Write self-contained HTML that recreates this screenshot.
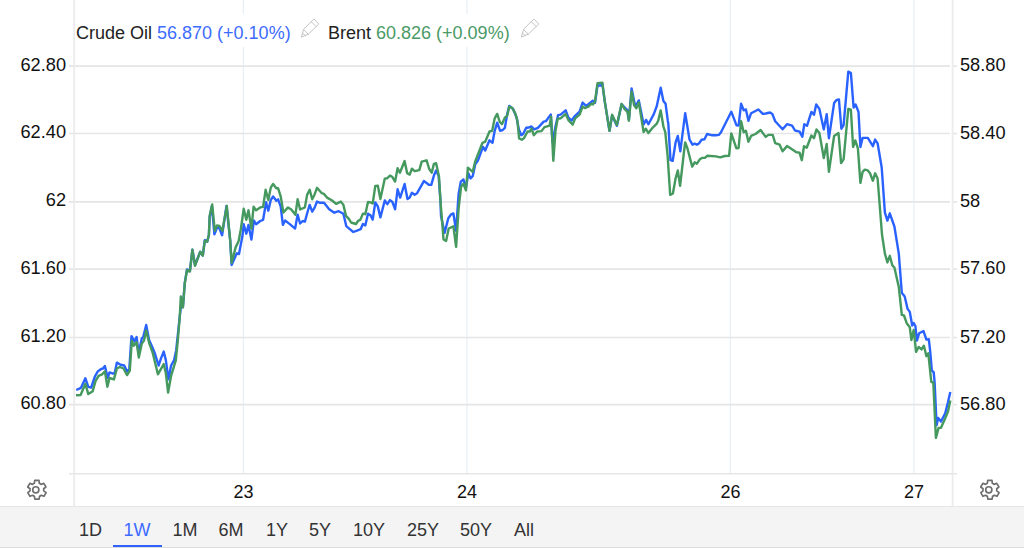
<!DOCTYPE html>
<html><head><meta charset="utf-8">
<style>
html,body{margin:0;padding:0;background:#fff;}
body{width:1024px;height:548px;position:relative;overflow:hidden;-webkit-font-smoothing:antialiased;font-family:"Liberation Sans",sans-serif;color:#131722;}
.yl{position:absolute;left:0;width:66px;text-align:right;font-size:18.2px;line-height:22px;color:#111;}
.yr{position:absolute;left:960px;font-size:18.2px;line-height:22px;color:#111;}
.xl{position:absolute;top:480.6px;width:60px;text-align:center;font-size:18px;line-height:22px;color:#111;}
.hdr{position:absolute;top:14px;left:76px;font-size:18px;line-height:38px;height:33px;overflow:hidden;white-space:nowrap;color:#222;background:#fff;}
.blue{color:#3d6cff;}
.green{color:#4a9a66;}
.gear,.pencil{position:absolute;}
.bar{position:absolute;left:0;top:506px;width:1024px;height:42px;background:#f4f4f4;border-top:1px solid #e6e6e6;border-bottom:1px solid #dcdcdc;box-sizing:border-box;}
.tab{position:absolute;top:519.4px;font-size:18px;line-height:22px;color:#333;}
.tab.sel{color:#3d6cff;}
.ul{position:absolute;left:112.5px;top:544.9px;width:49.3px;height:2.1px;background:#2f62ff;}
</style></head><body>
<svg width="1024" height="548" viewBox="0 0 1024 548" style="position:absolute;left:0;top:0"><line x1="243.4" y1="0" x2="243.4" y2="473" stroke="#e9f0f5" stroke-width="1.3"/><line x1="466.9" y1="0" x2="466.9" y2="473" stroke="#e9f0f5" stroke-width="1.3"/><line x1="730.4" y1="0" x2="730.4" y2="473" stroke="#e9f0f5" stroke-width="1.3"/><line x1="914.0" y1="0" x2="914.0" y2="473" stroke="#e9f0f5" stroke-width="1.3"/><line x1="69" y1="66.1" x2="950" y2="66.1" stroke="#e5e5e5" stroke-width="1.6"/><line x1="953" y1="66.1" x2="957" y2="66.1" stroke="#e5e5e5" stroke-width="1.6"/><line x1="69" y1="133.5" x2="950" y2="133.5" stroke="#e5e5e5" stroke-width="1.6"/><line x1="953" y1="133.5" x2="957" y2="133.5" stroke="#e5e5e5" stroke-width="1.6"/><line x1="69" y1="201.9" x2="950" y2="201.9" stroke="#e5e5e5" stroke-width="1.6"/><line x1="953" y1="201.9" x2="957" y2="201.9" stroke="#e5e5e5" stroke-width="1.6"/><line x1="69" y1="269.1" x2="950" y2="269.1" stroke="#e5e5e5" stroke-width="1.6"/><line x1="953" y1="269.1" x2="957" y2="269.1" stroke="#e5e5e5" stroke-width="1.6"/><line x1="69" y1="337.5" x2="950" y2="337.5" stroke="#e5e5e5" stroke-width="1.6"/><line x1="953" y1="337.5" x2="957" y2="337.5" stroke="#e5e5e5" stroke-width="1.6"/><line x1="69" y1="404.6" x2="950" y2="404.6" stroke="#e5e5e5" stroke-width="1.6"/><line x1="953" y1="404.6" x2="957" y2="404.6" stroke="#e5e5e5" stroke-width="1.6"/><line x1="74.2" y1="0" x2="74.2" y2="506" stroke="#ececec" stroke-width="1.8"/><line x1="952.6" y1="0" x2="952.6" y2="506" stroke="#ececec" stroke-width="1.8"/><line x1="69" y1="473.7" x2="957" y2="473.7" stroke="#e6e6e6" stroke-width="1.5"/><path d="M76.2,390.0 L81.0,387.8 L85.4,378.3 L88.3,386.8 L91.2,387.5 L94.9,376.5 L97.8,371.4 L100.8,369.2 L103.0,368.5 L104.9,366.0 L107.8,378.0 L109.5,372.4 L113.2,373.6 L114.7,372.9 L116.9,362.6 L120.5,364.8 L124.2,365.5 L127.1,371.4 L129.3,369.2 L131.5,336.2 L134.4,341.4 L136.6,337.0 L138.6,353.1 L141.8,338.4 L143.2,337.0 L146.2,325.0 L149.1,339.9 L152.0,346.5 L155.0,353.8 L158.6,365.5 L160.8,358.9 L163.7,351.6 L165.9,360.4 L168.4,379.4 L171.1,365.5 L174.0,360.4 L176.2,350.2 L178.4,329.6 L179.9,315.0 L181.8,299.4 L182.9,306.8 L184.8,282.6 L187.0,269.4 L189.9,270.9 L192.4,249.6 L195.0,265.0 L200.2,251.8 L202.8,255.5 L204.8,240.1 L207.2,241.6 L208.9,235.0 L209.7,216.9 L211.9,205.9 L214.4,234.4 L217.3,227.1 L219.5,228.6 L222.1,235.2 L226.5,205.9 L230.2,240.3 L231.6,265.0 L236.8,253.3 L239.0,254.0 L242.6,235.0 L243.7,224.2 L246.3,233.7 L248.5,224.9 L251.4,239.6 L253.9,220.5 L256.1,224.2 L260.2,221.0 L263.1,219.8 L266.1,202.2 L268.3,210.7 L270.8,200.0 L273.1,196.4 L276.3,200.8 L278.1,199.3 L280.7,206.6 L282.9,224.9 L285.1,220.5 L289.5,223.9 L295.1,228.6 L297.6,214.7 L300.1,223.5 L302.7,221.0 L304.9,221.6 L307.8,211.0 L309.7,204.9 L312.2,211.7 L314.5,207.9 L317.0,201.6 L319.6,202.7 L324.0,202.7 L329.2,209.3 L334.3,212.7 L338.7,211.2 L343.4,213.7 L346.3,226.2 L348.9,228.4 L353.3,232.0 L357.0,230.6 L360.7,229.1 L362.9,224.0 L365.3,225.4 L368.0,213.7 L370.5,215.2 L372.7,219.6 L375.3,202.4 L377.8,206.4 L380.4,217.4 L384.8,200.5 L387.3,204.2 L390.0,200.1 L392.4,202.0 L395.1,209.3 L397.6,189.3 L400.2,197.6 L404.6,184.0 L407.5,199.1 L409.7,197.6 L411.9,192.8 L414.6,194.7 L417.1,193.2 L423.9,181.1 L429.2,184.9 L431.3,184.9 L433.9,175.6 L436.1,170.5 L438.6,175.6 L440.5,201.3 L441.0,216.0 L444.6,232.9 L448.3,218.2 L451.2,214.3 L453.4,213.4 L456.1,230.7 L458.6,194.0 L460.8,181.6 L463.4,179.4 L465.9,188.2 L468.3,173.2 L470.5,178.4 L472.7,176.2 L475.2,164.4 L477.8,160.8 L483.0,146.9 L485.2,150.5 L489.5,140.3 L492.5,142.8 L494.7,130.8 L497.2,122.7 L500.1,130.8 L502.7,130.0 L504.9,127.8 L507.1,114.6 L509.3,105.9 L513.0,108.8 L516.6,117.6 L518.8,129.3 L521.3,135.2 L523.2,133.7 L526.2,127.8 L529.1,127.5 L531.3,126.4 L534.2,129.3 L537.9,127.8 L543.7,121.7 L545.9,121.2 L550.8,114.4 L552.5,142.5 L555.5,126.4 L558.1,115.1 L560.6,114.6 L565.7,110.3 L568.4,117.6 L571.6,120.5 L574.5,116.4 L579.6,111.7 L582.6,102.6 L586.2,105.9 L592.8,100.7 L595.0,102.9 L597.5,85.5 L601.1,85.5 L602.3,83.3 L604.8,101.6 L609.5,130.9 L612.1,115.5 L616.9,125.8 L621.6,104.3 L627.5,110.4 L628.9,119.9 L631.6,88.4 L634.8,104.5 L636.3,105.3 L638.8,100.4 L641.4,113.3 L643.6,124.3 L646.1,119.9 L648.4,124.3 L653.8,114.1 L656.8,106.0 L660.7,87.7 L663.4,100.9 L665.6,103.8 L667.8,120.7 L668.3,123.4 L670.5,160.1 L672.7,160.8 L675.6,142.5 L677.8,135.9 L680.3,151.3 L685.2,113.2 L689.5,139.5 L692.5,144.7 L694.7,143.7 L696.9,144.7 L699.1,143.2 L701.6,139.8 L704.5,139.3 L707.1,134.0 L711.5,135.2 L715.9,135.2 L718.8,134.9 L721.0,132.2 L731.3,111.7 L736.4,125.2 L738.6,125.6 L741.1,103.7 L743.7,110.3 L745.9,109.5 L748.4,120.8 L751.1,113.2 L758.4,109.5 L762.8,113.9 L765.7,113.5 L770.1,112.5 L772.3,113.9 L775.2,121.2 L782.6,129.3 L787.0,124.2 L792.1,125.6 L795.0,130.5 L799.6,131.6 L802.3,136.8 L804.3,124.3 L807.0,125.8 L811.4,111.9 L814.0,114.8 L816.2,104.5 L819.4,108.9 L823.8,129.4 L826.7,114.1 L828.9,138.2 L834.1,103.1 L836.3,100.2 L838.9,99.4 L841.4,128.7 L843.6,125.1 L848.3,71.6 L850.9,73.1 L853.6,107.5 L855.6,104.5 L858.5,111.9 L860.4,147.0 L862.6,137.9 L867.8,137.9 L872.9,146.2 L875.1,139.6 L877.6,143.3 L881.7,167.5 L884.9,212.6 L887.4,220.6 L889.8,213.3 L894.4,226.5 L898.8,253.6 L901.8,292.8 L904.7,296.5 L907.6,308.9 L909.8,311.9 L912.2,325.5 L913.7,323.0 L915.4,326.0 L916.9,340.6 L919.1,333.3 L923.5,331.1 L926.4,339.6 L928.8,339.2 L930.3,352.3 L931.8,370.4 L933.7,372.4 L934.6,382.0 L936.6,425.3 L938.2,417.9 L941.0,421.5 L945.2,413.3 L947.9,402.6 L950.3,392.0" fill="none" stroke="#2962ff" stroke-width="2.4" stroke-linejoin="round" stroke-linecap="butt"/><path d="M76.0,395.2 L80.6,395.0 L85.4,383.8 L88.3,394.1 L92.7,391.2 L95.6,380.9 L98.6,375.8 L102.2,374.3 L104.9,371.4 L107.4,386.8 L109.5,378.0 L113.9,379.4 L116.9,368.5 L119.8,367.0 L123.5,368.5 L127.1,375.1 L129.8,370.7 L131.8,340.6 L133.7,345.8 L136.6,342.1 L138.8,357.5 L141.8,343.6 L144.0,340.6 L146.2,330.4 L149.1,342.8 L152.8,353.1 L157.9,374.3 L163.7,364.1 L165.9,373.6 L168.1,392.6 L171.1,375.8 L175.8,360.4 L177.7,341.4 L179.9,315.0 L180.8,296.5 L182.9,307.5 L184.8,283.3 L187.0,270.2 L189.9,271.6 L192.4,249.6 L195.0,265.8 L200.2,251.8 L202.8,255.5 L204.8,240.9 L207.2,241.6 L208.9,235.0 L209.7,215.4 L212.2,204.4 L214.8,230.8 L217.0,225.4 L219.5,226.0 L222.4,230.8 L226.8,205.9 L230.2,240.3 L231.6,262.8 L235.7,247.1 L238.6,241.3 L240.7,230.0 L243.7,208.8 L246.3,219.8 L248.5,210.3 L251.4,228.6 L253.6,206.6 L256.1,210.3 L260.2,207.4 L263.1,206.9 L265.6,189.8 L268.3,200.0 L270.8,187.6 L273.1,183.9 L276.3,188.3 L278.1,188.3 L280.7,196.4 L283.4,212.5 L288.0,207.4 L291.3,209.5 L295.4,214.7 L297.6,199.3 L300.1,209.5 L304.9,207.4 L307.1,194.9 L309.7,189.8 L312.2,199.3 L314.5,194.7 L317.0,187.8 L321.8,193.2 L324.0,193.9 L327.0,197.6 L332.1,200.5 L336.1,203.9 L340.9,201.6 L343.4,204.9 L346.0,215.9 L348.9,218.8 L351.1,222.5 L356.0,224.0 L358.0,221.0 L360.4,219.6 L362.9,213.7 L365.3,214.2 L368.0,202.0 L370.5,202.4 L372.7,203.5 L375.3,185.9 L377.8,185.6 L380.4,199.1 L384.8,178.6 L387.0,178.3 L390.0,175.6 L392.4,177.1 L395.1,181.5 L397.6,168.3 L399.9,172.7 L404.6,161.0 L407.1,173.1 L409.7,174.6 L411.9,168.7 L414.6,171.2 L419.3,170.2 L421.7,161.7 L426.6,160.3 L429.2,169.0 L431.7,172.7 L433.9,163.9 L436.1,163.2 L439.0,176.4 L440.5,201.3 L443.5,239.4 L446.1,240.9 L448.7,228.5 L453.4,226.3 L456.1,246.8 L458.6,208.7 L461.1,186.7 L463.4,183.8 L465.9,190.4 L467.9,167.7 L472.7,171.8 L475.2,161.5 L482.5,142.8 L485.2,141.7 L489.5,131.5 L492.2,130.8 L494.7,118.3 L497.2,113.9 L499.8,122.0 L502.0,124.2 L504.9,117.6 L507.1,116.1 L509.3,106.6 L512.3,108.1 L515.2,113.2 L517.4,120.5 L519.1,138.4 L521.8,139.8 L524.0,138.1 L527.6,131.5 L529.8,131.5 L531.6,128.6 L533.8,135.2 L537.2,131.5 L541.5,131.1 L544.5,127.1 L549.6,125.6 L551.1,116.8 L553.3,160.8 L555.5,130.8 L557.7,118.7 L560.6,118.3 L565.7,113.9 L568.6,120.5 L572.7,124.6 L575.2,118.3 L579.6,114.6 L582.6,106.6 L584.8,108.1 L588.4,106.6 L591.4,103.7 L592.8,104.4 L595.0,101.5 L597.5,83.3 L602.3,82.6 L604.8,101.6 L609.5,130.9 L612.1,114.8 L616.9,125.1 L621.6,103.8 L624.5,108.9 L627.5,111.9 L628.9,120.7 L631.6,91.4 L634.1,105.3 L636.3,108.2 L638.8,102.4 L643.6,132.1 L645.8,128.7 L648.4,133.1 L652.4,128.0 L656.8,123.6 L658.2,120.7 L660.7,110.4 L663.4,126.5 L665.3,132.4 L667.6,155.7 L670.2,194.9 L672.9,193.5 L675.6,178.3 L677.8,170.5 L680.1,185.9 L684.2,150.0 L685.2,142.5 L687.4,148.3 L692.2,166.6 L694.7,162.3 L696.9,163.7 L699.8,159.3 L702.0,157.9 L704.9,157.9 L707.4,155.7 L715.9,156.4 L720.3,157.4 L724.7,156.0 L729.1,155.7 L731.3,133.4 L736.4,148.3 L738.6,148.0 L741.1,121.2 L743.7,132.2 L745.9,130.8 L748.4,141.7 L751.1,135.9 L755.5,134.0 L760.6,130.0 L765.7,136.9 L768.4,134.9 L772.7,134.9 L775.2,143.2 L779.6,144.7 L782.6,151.3 L787.0,146.1 L795.0,151.3 L796.0,152.1 L799.6,152.8 L801.8,160.2 L804.0,146.2 L806.7,147.7 L811.4,135.5 L814.0,138.2 L816.5,129.4 L819.4,133.1 L823.8,158.0 L826.7,144.0 L828.9,171.9 L834.1,136.0 L838.5,133.1 L841.1,163.1 L843.6,159.4 L848.3,108.9 L850.9,109.7 L853.1,147.0 L855.3,140.4 L857.9,148.4 L860.4,182.9 L862.6,171.9 L864.8,169.7 L867.8,170.4 L870.0,173.3 L872.9,180.7 L875.1,173.3 L877.6,178.5 L882.0,234.5 L884.9,253.6 L887.4,262.4 L889.8,255.8 L892.3,265.3 L894.4,267.5 L898.8,287.0 L901.8,314.8 L904.0,315.5 L906.9,323.6 L909.8,327.3 L911.4,340.1 L913.7,329.9 L916.1,351.9 L918.6,347.0 L921.5,349.4 L923.9,345.7 L926.4,356.2 L928.3,353.3 L931.3,382.0 L933.3,382.4 L935.9,437.9 L938.6,427.9 L941.0,427.7 L943.9,421.3 L947.9,411.9 L950.3,400.6" fill="none" stroke="#45995f" stroke-width="2.4" stroke-linejoin="round" stroke-linecap="butt"/></svg>
<div class="hdr" id="h1">Crude Oil <span class="blue">56.870 (+0.10%)</span></div>
<div class="hdr" id="h2" style="left:328px">Brent <span class="green">60.826 (+0.09%)</span></div>
<svg class="pencil" style="left:300px;top:18px" width="24" height="24" viewBox="0 0 24 24" fill="none" stroke="#c4c4c4" stroke-width="1" stroke-linejoin="round" stroke-linecap="round"><path d="M14.100 1.300L18.800 6L8.300 16.200L1.300 19.100L3.600 11.500Z M11.500 3.900L16.200 8.600 M3.600 11.500L8.300 16.200 M2.600 15.200L5.200 17.500"/></svg>
<svg class="pencil" style="left:519.7px;top:18px" width="24" height="24" viewBox="0 0 24 24" fill="none" stroke="#c4c4c4" stroke-width="1" stroke-linejoin="round" stroke-linecap="round"><path d="M14.100 1.300L18.800 6L8.300 16.200L1.300 19.100L3.600 11.500Z M11.500 3.900L16.200 8.600 M3.600 11.500L8.300 16.200 M2.600 15.200L5.200 17.500"/></svg>
<div class="yl" style="top:53.5px">62.80</div><div class="yl" style="top:120.9px">62.40</div><div class="yl" style="top:189.3px">62</div><div class="yl" style="top:256.5px">61.60</div><div class="yl" style="top:324.9px">61.20</div><div class="yl" style="top:392.0px">60.80</div><div class="yr" style="top:54.1px">58.80</div><div class="yr" style="top:121.5px">58.40</div><div class="yr" style="top:189.9px">58</div><div class="yr" style="top:257.1px">57.60</div><div class="yr" style="top:325.5px">57.20</div><div class="yr" style="top:392.6px">56.80</div><div class="xl" style="left:213.4px">23</div><div class="xl" style="left:436.9px">24</div><div class="xl" style="left:700.4px">26</div><div class="xl" style="left:884.0px">27</div>
<svg class="gear" style="left:22.9px;top:477.4px" width="25.6" height="25.6" viewBox="0 0 24 24" fill="none" stroke="#6e6e6e" stroke-width="1.55" stroke-linejoin="round"><circle cx="12" cy="12" r="2.9"/><path d="M19.4 13a7.6 7.6 0 0 0 0-2l2.1-1.6-2-3.5-2.5 1a7.600 7.600 0 0 0-1.700-1L15 3.200h-4l-.4 2.700a7.600 7.600 0 0 0-1.700 1l-2.500-1-2 3.500L6.600 11a7.600 7.600 0 0 0 0 2l-2.100 1.600 2 3.500 2.500-1a7.600 7.600 0 0 0 1.700 1l.4 2.700h4l.4-2.700a7.600 7.600 0 0 0 1.700-1l2.500 1 2-3.500z"/></svg>
<svg class="gear" style="left:976.0px;top:477.2px" width="25.6" height="25.6" viewBox="0 0 24 24" fill="none" stroke="#6e6e6e" stroke-width="1.55" stroke-linejoin="round"><circle cx="12" cy="12" r="2.9"/><path d="M19.4 13a7.6 7.6 0 0 0 0-2l2.1-1.6-2-3.5-2.5 1a7.600 7.600 0 0 0-1.700-1L15 3.200h-4l-.4 2.700a7.600 7.600 0 0 0-1.700 1l-2.500-1-2 3.500L6.600 11a7.600 7.600 0 0 0 0 2l-2.100 1.600 2 3.500 2.500-1a7.600 7.600 0 0 0 1.700 1l.4 2.700h4l.4-2.700a7.600 7.600 0 0 0 1.700-1l2.500 1 2-3.500z"/></svg>
<div class="bar"></div>
<div class="tab" style="left:79px">1D</div>
<div class="tab sel" style="left:123.5px">1W</div>
<div class="tab" style="left:172.6px">1M</div>
<div class="tab" style="left:218.6px">6M</div>
<div class="tab" style="left:266px">1Y</div>
<div class="tab" style="left:309px">5Y</div>
<div class="tab" style="left:353px">10Y</div>
<div class="tab" style="left:407px">25Y</div>
<div class="tab" style="left:460px">50Y</div>
<div class="tab" style="left:514px">All</div>
<div class="ul"></div>
</body></html>
